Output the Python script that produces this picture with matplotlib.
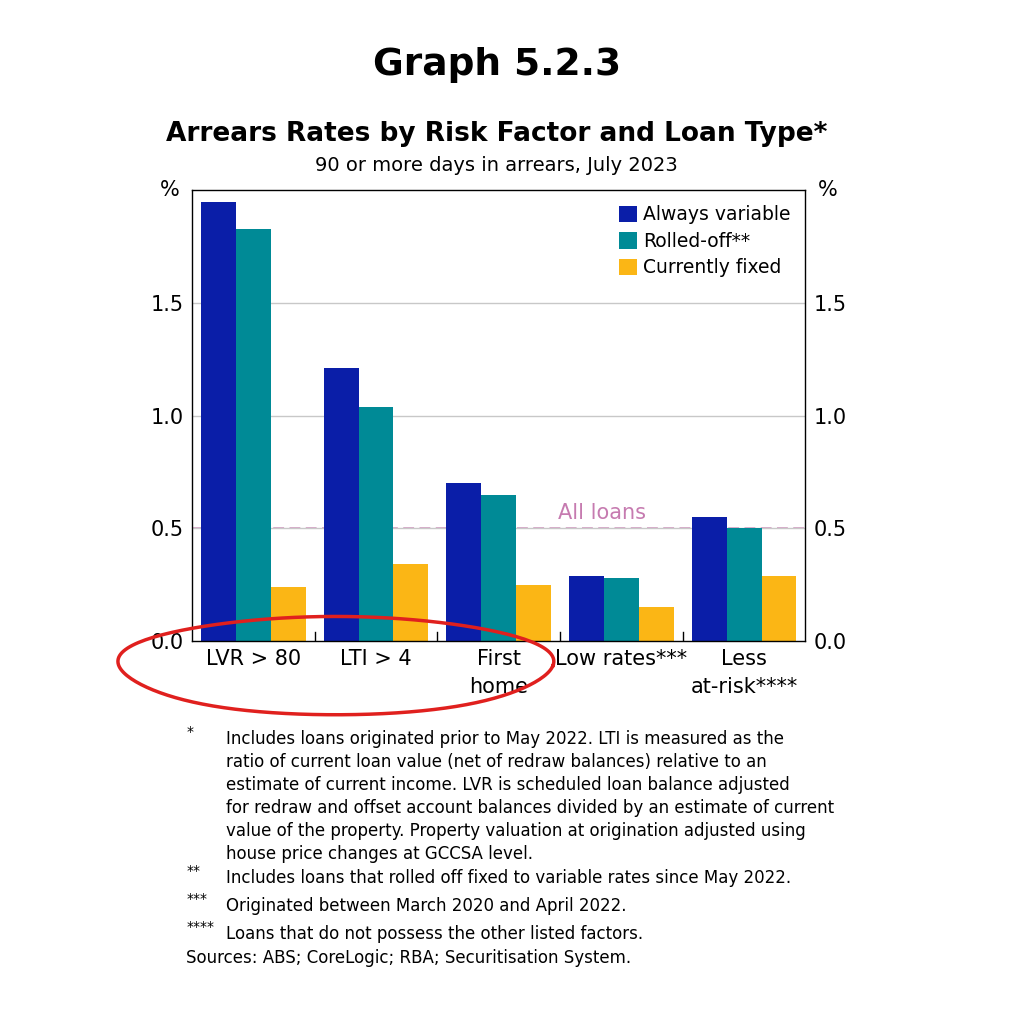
import numpy as np
import matplotlib.pyplot as plt

categories = ["LVR > 80", "LTI > 4", "First\nhome", "Low rates***", "Less\nat-risk****"]
always_variable = [1.95, 1.21, 0.70, 0.29, 0.55]
rolled_off = [1.83, 1.04, 0.65, 0.28, 0.50]
currently_fixed = [0.24, 0.34, 0.25, 0.15, 0.29]
all_loans = 0.5
yticks = [0.0, 0.5, 1.0, 1.5]

fig = plt.figure(figsize=(10.24, 10.24), dpi=100)
ax = fig.add_axes([0.1875, 0.374, 0.599, 0.44])

x = np.arange(len(categories))
w = 0.285
ax.bar(x - w, always_variable, w, color="#0a1ea8", label="Always variable")
ax.bar(x, rolled_off, w, color="#008a96", label="Rolled-off**")
ax.bar(x + w, currently_fixed, w, color="#fbb615", label="Currently fixed")
ax.axhline(all_loans, color="#d7a0c6", ls=(0, (6, 3)), lw=1.3, zorder=0)
ax.text(3.2, all_loans + 0.04, "All loans", color="#c67bb0", fontsize=15, ha="right")

for y in yticks[1:]:
    ax.axhline(y, color="#c8c8c8", lw=1, zorder=0)
ax.set_xlim(-0.5, len(categories) - 0.5)
ax.set_ylim(0, 2.0)
ax.set_yticks(yticks)
ax.set_yticklabels([f"{v:.1f}" for v in yticks], fontsize=15)
ax.tick_params(axis="y", length=0, labelright=True, right=False, pad=6)
ax.set_xticks(x)
ax.set_xticklabels(categories, fontsize=15, linespacing=1.5)
ax.tick_params(axis="x", length=0, pad=6)
for b in x[:-1] + 0.5:
    ax.plot([b, b], [0, 0.04], color="black", lw=1)
for s in ax.spines.values():
    s.set_linewidth(1)
ax.text(-0.02, 1.0, "%", transform=ax.transAxes, ha="right", va="center", fontsize=15)
ax.text(1.02, 1.0, "%", transform=ax.transAxes, ha="left", va="center", fontsize=15)
ax.legend(loc="upper right", fontsize=13.5, frameon=False, handlelength=1.0,
          handleheight=1.0, handletextpad=0.3, labelspacing=0.4, borderaxespad=0.4)

fig.text(0.485, 0.927, "Graph 5.2.3", ha="center", fontsize=27, weight="bold")
fig.text(0.485, 0.862, "Arrears Rates by Risk Factor and Loan Type*", ha="center",
         fontsize=19, weight="bold")
fig.text(0.485, 0.833, "90 or more days in arrears, July 2023", ha="center", fontsize=14)

# hand-drawn red ring around the first three categories
t = np.linspace(0, 2 * np.pi, 200)
fig.add_artist(plt.Line2D(0.328 + 0.212 * np.cos(t) * (1 + 0.03 * np.sin(3 * t)),
                          0.35 + 0.048 * np.sin(t), color="#e0201e", lw=2.5))

notes = [
    ("*", "Includes loans originated prior to May 2022. LTI is measured as the\n"
          "ratio of current loan value (net of redraw balances) relative to an\n"
          "estimate of current income. LVR is scheduled loan balance adjusted\n"
          "for redraw and offset account balances divided by an estimate of current\n"
          "value of the property. Property valuation at origination adjusted using\n"
          "house price changes at GCCSA level.", 0.287),
    ("**", "Includes loans that rolled off fixed to variable rates since May 2022.", 0.151),
    ("***", "Originated between March 2020 and April 2022.", 0.124),
    ("****", "Loans that do not possess the other listed factors.", 0.097),
]
for mark, txt, y in notes:
    fig.text(0.182, y + 0.005, mark, fontsize=10, va="top")
    fig.text(0.221, y, txt, fontsize=12, va="top", linespacing=1.35)
fig.text(0.182, 0.06, "Sources: ABS; CoreLogic; RBA; Securitisation System.", fontsize=12)

fig.savefig("out.png")
